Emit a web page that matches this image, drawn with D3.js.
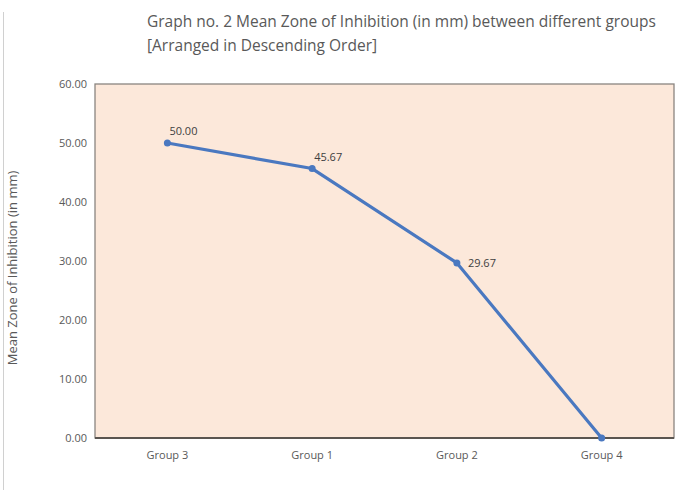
<!DOCTYPE html>
<html><head><meta charset="utf-8">
<script src="https://cdn.jsdelivr.net/npm/d3@7"></script>
<style>body{margin:0;background:#fff;} svg{display:block;}</style>
</head><body>
<svg id="c" width="686" height="493"></svg>
<script>
const categories = ["Group 3", "Group 1", "Group 2", "Group 4"];
const values = [50.00, 45.67, 29.67, 0.00];
const dataLabels = ["50.00", "45.67", "29.67", ""];
const yTicks = [0, 10, 20, 30, 40, 50, 60];
const titleLines = ["Graph no. 2 Mean Zone of Inhibition (in mm) between different groups", "[Arranged in Descending Order]"];
const yTitle = "Mean Zone of Inhibition (in mm)";

const svg = d3.select("#c");
const font = "'Open Sans', 'Noto Sans', sans-serif";
const L = 95, R = 674, T = 84, B = 438;

svg.append("line").attr("x1", 3.5).attr("x2", 3.5).attr("y1", 12).attr("y2", 490)
  .attr("stroke", "#d0d0d0").attr("stroke-width", 1);

const x = d3.scaleBand().domain(categories).range([L, R]);
const y = d3.scaleLinear().domain([0, 60]).range([B, T]);

svg.append("rect").attr("x", L).attr("y", T).attr("width", R - L).attr("height", B - T)
  .attr("fill", "#fce8da").attr("stroke", "#8a8580").attr("stroke-width", 1.3);
svg.append("line").attr("x1", L).attr("x2", R).attr("y1", B).attr("y2", B)
  .attr("stroke", "#5a5550").attr("stroke-width", 2);

const yAxis = svg.append("g").attr("transform", `translate(${L},0)`)
  .call(d3.axisLeft(y).tickValues(yTicks).tickFormat(d3.format(".2f")).tickSize(0).tickPadding(8));
yAxis.select(".domain").remove();
yAxis.selectAll("text").attr("font-family", font).attr("font-size", 11).attr("fill", "#595959");

const xAxis = svg.append("g").attr("transform", `translate(0,${B})`)
  .call(d3.axisBottom(x).tickSize(0).tickPadding(13));
xAxis.select(".domain").remove();
xAxis.selectAll("text").attr("font-family", font).attr("font-size", 11).attr("fill", "#595959");

const pts = categories.map((c, i) => ({c, v: values[i], lab: dataLabels[i]}));
const line = d3.line().x(d => x(d.c) + x.bandwidth() / 2).y(d => y(d.v));
svg.append("path").datum(pts).attr("d", line).attr("fill", "none")
  .attr("stroke", "#4a78c0").attr("stroke-width", 3.2).attr("stroke-linejoin", "round");
svg.selectAll("circle.pt").data(pts).join("circle").attr("class", "pt")
  .attr("cx", d => x(d.c) + x.bandwidth() / 2).attr("cy", d => y(d.v)).attr("r", 3.5)
  .attr("fill", "#4a78c0");

svg.selectAll("text.lab").data(pts.filter(d => d.lab)).join("text").attr("class", "lab")
  .attr("x", (d, i) => x(d.c) + x.bandwidth() / 2 + (i === 2 ? 11 : 2))
  .attr("y", (d, i) => y(d.v) + (i === 2 ? 4 : -8))
  .attr("font-family", font).attr("font-size", 11).attr("fill", "#404040")
  .text(d => d.lab);

svg.selectAll("text.title").data(titleLines).join("text").attr("class", "title")
  .attr("x", 147).attr("y", (d, i) => 27 + i * 24)
  .attr("font-family", font).attr("font-size", 15.5).attr("fill", "#595959")
  .text(d => d);

svg.append("text").attr("transform", "translate(17,268) rotate(-90)")
  .attr("text-anchor", "middle").attr("font-family", font).attr("font-size", 13)
  .attr("fill", "#595959").text(yTitle);
</script>
</body></html>
